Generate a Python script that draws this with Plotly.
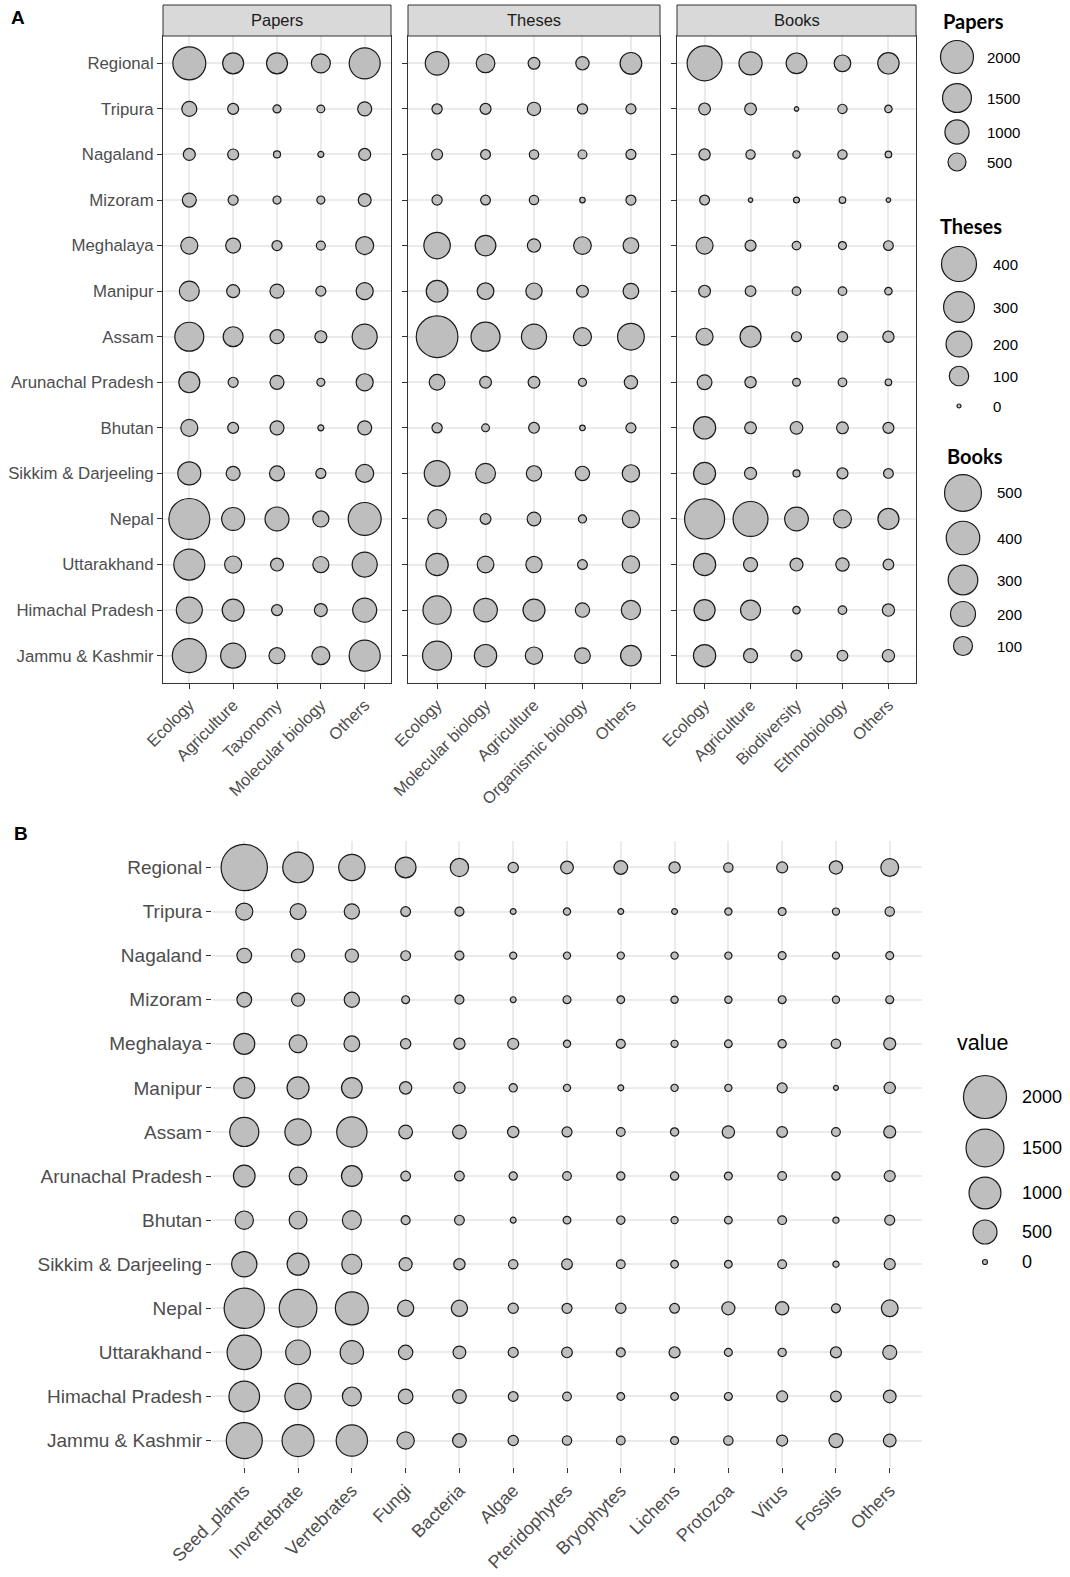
import math
import plotly.graph_objects as go

W, H = 1070, 1577

REGIONS = ["Regional", "Tripura", "Nagaland", "Mizoram", "Meghalaya", "Manipur", "Assam",
           "Arunachal Pradesh", "Bhutan", "Sikkim & Darjeeling", "Nepal", "Uttarakhand",
           "Himachal Pradesh", "Jammu & Kashmir"]

PAPER_CATS = ["Ecology", "Agriculture", "Taxonomy", "Molecular biology", "Others"]
PAPER_VALUES = [
    [2000, 720, 720, 570, 1750],
    [320, 140, 56, 50, 270],
    [180, 140, 36, 20, 180],
    [270, 110, 56, 56, 220],
    [440, 320, 110, 80, 500],
    [640, 220, 270, 110, 440],
    [1500, 640, 270, 180, 1080],
    [720, 110, 270, 56, 440],
    [440, 140, 270, 20, 270],
    [890, 270, 320, 110, 500],
    [3200, 890, 980, 380, 2000],
    [1750, 440, 220, 380, 1080],
    [1180, 800, 140, 220, 980],
    [2140, 1080, 380, 500, 1750],
]

THESES_CATS = ["Ecology", "Molecular biology", "Agriculture", "Organismic biology", "Others"]
THESES_VALUES = [
    [160, 90, 25, 36, 130],
    [16, 20, 36, 16, 15],
    [20, 14, 12, 10, 15],
    [16, 14, 12, 1, 15],
    [210, 115, 36, 78, 57],
    [130, 67, 63, 25, 57],
    [590, 260, 185, 82, 215],
    [57, 25, 25, 7, 36],
    [16, 6, 19, 1, 15],
    [195, 105, 53, 44, 74],
    [90, 19, 39, 7, 74],
    [140, 67, 63, 14, 74],
    [245, 160, 135, 44, 97],
    [260, 140, 74, 57, 115],
]

BOOKS_CATS = ["Ecology", "Agriculture", "Biodiversity", "Ethnobiology", "Others"]
BOOKS_VALUES = [
    [440, 165, 125, 70, 135],
    [25, 25, 0, 11, 4],
    [22, 11, 4, 11, 2],
    [14, 0, 1, 2, 0],
    [74, 20, 8, 6, 13],
    [25, 18, 8, 8, 4],
    [74, 130, 14, 16, 22],
    [50, 22, 5, 8, 2],
    [150, 25, 32, 25, 20],
    [145, 27, 3, 20, 13],
    [600, 440, 175, 87, 130],
    [150, 43, 34, 37, 18],
    [130, 115, 4, 8, 29],
    [150, 43, 20, 18, 29],
]

TAXA_CATS = ["Seed_plants", "Invertebrate", "Vertebrates", "Fungi", "Bacteria", "Algae",
             "Pteridophytes", "Bryophytes", "Lichens", "Protozoa", "Virus", "Fossils", "Others"]
TAXA_VALUES = [
    [2360, 910, 630, 340, 245, 39, 82, 105, 55, 26, 50, 95, 225],
    [200, 165, 145, 31, 22, 1, 7, 1, 1, 7, 12, 6, 26],
    [130, 95, 95, 31, 22, 6, 7, 7, 7, 7, 12, 6, 12],
    [130, 90, 145, 12, 22, 1, 12, 10, 7, 7, 12, 6, 12],
    [355, 225, 160, 39, 55, 50, 7, 22, 6, 10, 15, 26, 68],
    [355, 400, 340, 75, 55, 15, 7, 1, 7, 7, 35, 0, 55],
    [800, 630, 885, 105, 105, 55, 35, 19, 15, 75, 45, 19, 68],
    [385, 225, 340, 31, 31, 15, 19, 15, 15, 12, 19, 15, 50],
    [245, 225, 270, 22, 31, 1, 10, 15, 6, 10, 19, 2, 35],
    [570, 400, 310, 90, 55, 26, 45, 19, 10, 10, 19, 2, 50],
    [1725, 1480, 1085, 175, 175, 39, 35, 39, 31, 90, 95, 22, 190],
    [1190, 540, 465, 120, 82, 35, 45, 22, 50, 12, 15, 50, 112],
    [910, 630, 270, 130, 105, 31, 19, 10, 10, 12, 50, 45, 82],
    [1330, 1010, 960, 210, 105, 39, 26, 19, 12, 26, 50, 112, 82],
]

PAPERS_BREAKS = [2000, 1500, 1000, 500]
THESES_BREAKS = [400, 300, 200, 100, 0]
BOOKS_BREAKS = [500, 400, 300, 200, 100]
VALUE_BREAKS = [2000, 1500, 1000, 500, 0]

# size scales (diameter in px = d0 + k*sqrt(value))
SCALES = {"Papers": (4.0, 0.67), "Theses": (5.0, 1.55), "Books": (5.5, 1.45), "value": (6.0, 0.85)}

FILL = "#BEBEBE"
EDGE = "#1A1A1A"
FONT = "Liberation Sans, Arial, sans-serif"
AXTXT = "#4D4D4D"


def px(x):
    return x / W


def py(y):
    return 1 - y / H


def diam(v, scale):
    d0, k = SCALES[scale]
    return max(d0 + k * math.sqrt(v) - 1.0, 1.0)


def marker(sizes):
    return dict(size=sizes, color=FILL, opacity=1, line=dict(color=EDGE, width=1.2))


fig = go.Figure()

facets = [
    ("Papers", PAPER_CATS, PAPER_VALUES, "x", "y", (163, 391)),
    ("Theses", THESES_CATS, THESES_VALUES, "x2", "y2", (408, 660)),
    ("Books", BOOKS_CATS, BOOKS_VALUES, "x3", "y3", (677, 916)),
]

for name, cats, vals, xa, ya, _ in facets:
    xs, ys, ss = [], [], []
    for r, reg in enumerate(REGIONS):
        for c, cat in enumerate(cats):
            xs.append(cat)
            ys.append(reg)
            ss.append(diam(vals[r][c], name))
    fig.add_trace(go.Scatter(x=xs, y=ys, mode="markers", xaxis=xa, yaxis=ya,
                             marker=marker(ss), showlegend=False, hoverinfo="x+y"))

xs, ys, ss = [], [], []
for r, reg in enumerate(REGIONS):
    for c, cat in enumerate(TAXA_CATS):
        xs.append(cat)
        ys.append(reg)
        ss.append(diam(TAXA_VALUES[r][c], "value"))
fig.add_trace(go.Scatter(x=xs, y=ys, mode="markers", xaxis="x4", yaxis="y4",
                         marker=marker(ss), showlegend=False))

ycat = list(reversed(REGIONS))
A_TOP, A_BOT = 36, 683
layout = dict(
    template="none",
    width=W, height=H, margin=dict(l=0, r=0, t=0, b=0, pad=0),
    paper_bgcolor="white", plot_bgcolor="rgba(0,0,0,0)",
    font=dict(family=FONT, color=AXTXT),
    showlegend=False,
)

for i, (name, cats, vals, xa, ya, (x0, x1)) in enumerate(facets):
    sfx = "" if i == 0 else str(i + 1)
    layout["xaxis" + sfx] = dict(
        domain=[px(x0), px(x1)], anchor=ya, type="category", automargin=False,
        categoryorder="array", categoryarray=cats, range=[-0.6, len(cats) - 0.4],
        showline=True, linecolor="#333333", linewidth=1, mirror=True,
        ticks="outside", ticklen=5, tickwidth=1.2, tickcolor="#333333",
        tickangle=-45, tickfont=dict(size=16.5, color=AXTXT, family=FONT),
        showgrid=True, gridcolor="#EBEBEB", gridwidth=1.5, zeroline=False, fixedrange=True)
    layout["yaxis" + sfx] = dict(
        domain=[py(A_BOT), py(A_TOP)], anchor=xa, type="category", automargin=False,
        categoryorder="array", categoryarray=ycat, range=[-0.6, 13.6],
        showline=True, linecolor="#333333", linewidth=1, mirror=True,
        ticks="outside", ticklen=5, tickwidth=1.2, tickcolor="#333333",
        showticklabels=(i == 0), tickfont=dict(size=16.8, color=AXTXT, family=FONT),
        showgrid=True, gridcolor="#EBEBEB", gridwidth=1.5, zeroline=False, fixedrange=True)

layout["xaxis4"] = dict(
    domain=[px(212), px(922)], anchor="y4", type="category", automargin=False,
    categoryorder="array", categoryarray=TAXA_CATS, range=[-0.6, len(TAXA_CATS) - 0.4],
    showline=False, ticks="outside", ticklen=5, tickwidth=1.2, tickcolor="#333333",
    tickangle=-45, tickfont=dict(size=18, color=AXTXT, family=FONT),
    showgrid=True, gridcolor="#EBEBEB", gridwidth=1.8, zeroline=False, fixedrange=True)
layout["yaxis4"] = dict(
    domain=[py(1467), py(841)], anchor="x4", type="category", automargin=False,
    categoryorder="array", categoryarray=ycat, range=[-0.6, 13.6],
    showline=False, ticks="outside", ticklen=5, tickwidth=1.2, tickcolor="#333333",
    tickfont=dict(size=19, color=AXTXT, family=FONT),
    showgrid=True, gridcolor="#EBEBEB", gridwidth=1.8, zeroline=False, fixedrange=True)

# overlay pixel axes for the size legends
layout["xaxis5"] = dict(domain=[0, 1], anchor="y5", range=[0, W], visible=False,
                        fixedrange=True, automargin=False)
layout["yaxis5"] = dict(domain=[0, 1], anchor="x5", range=[H, 0], visible=False,
                        fixedrange=True, automargin=False)

LEGENDS = [
    # title, breaks, scale, title(x,y), key x, key ys, label x, title style
    ("Papers", PAPERS_BREAKS, "Papers", (941, 21), 957, [57, 98, 132, 162], 985, "bold"),
    ("Theses", THESES_BREAKS, "Theses", (938, 226), 959, [264, 307, 344, 376, 406], 991, "bold"),
    ("Books", BOOKS_BREAKS, "Books", (945, 456), 963, [493, 538, 580, 614, 646], 995, "bold"),
    ("value", VALUE_BREAKS, "value", (955, 1043), 985, [1097, 1148, 1193, 1232, 1262], 1020, "plain"),
]

annotations = []
for title, breaks, scale, (tx, ty), kx, kys, lx, style in LEGENDS:
    fig.add_trace(go.Scatter(
        x=[kx] * len(breaks), y=kys, mode="markers", xaxis="x5", yaxis="y5",
        marker=marker([diam(b, scale) for b in breaks]),
        showlegend=False, hoverinfo="skip"))
    if style == "bold":
        annotations.append(dict(x=px(tx), y=py(ty), xref="paper", yref="paper",
                                text="<b>%s</b>" % title, showarrow=False, xanchor="left",
                                yanchor="middle",
                                font=dict(family="Lato, Open Sans, sans-serif", size=20, color="#000000")))
        lsize = 15
    else:
        annotations.append(dict(x=px(tx), y=py(ty), xref="paper", yref="paper",
                                text=title, showarrow=False, xanchor="left", yanchor="middle",
                                font=dict(family=FONT, size=21.5, color="#000000")))
        lsize = 18
    for b, yy in zip(breaks, kys):
        annotations.append(dict(x=px(lx), y=py(yy), xref="paper", yref="paper",
                                text=str(b), showarrow=False, xanchor="left", yanchor="middle",
                                font=dict(family=FONT, size=lsize, color="#000000")))

shapes = []
for name, cats, vals, xa, ya, (x0, x1) in facets:
    shapes.append(dict(type="rect", xref="paper", yref="paper",
                       x0=px(x0), x1=px(x1), y0=py(A_TOP), y1=py(5),
                       fillcolor="#D9D9D9", line=dict(color="#333333", width=1)))
    annotations.append(dict(x=px((x0 + x1) / 2), y=py(20.5), xref="paper", yref="paper",
                            text=name, showarrow=False, xanchor="center", yanchor="middle",
                            font=dict(family=FONT, size=16.5, color="#1A1A1A")))

annotations.append(dict(x=px(18), y=py(18), xref="paper", yref="paper", text="<b>A</b>",
                        xanchor="center", yanchor="middle",
                        showarrow=False, font=dict(family=FONT, size=19, color="#000000")))
annotations.append(dict(x=px(21), y=py(833), xref="paper", yref="paper", text="<b>B</b>",
                        xanchor="center", yanchor="middle",
                        showarrow=False, font=dict(family=FONT, size=19, color="#000000")))

layout["shapes"] = shapes
layout["annotations"] = annotations
fig.update_layout(**layout)

fig.write_html("out.html", config={"displayModeBar": False},
               post_script="document.body.style.margin='0';document.body.style.overflow='hidden';")
